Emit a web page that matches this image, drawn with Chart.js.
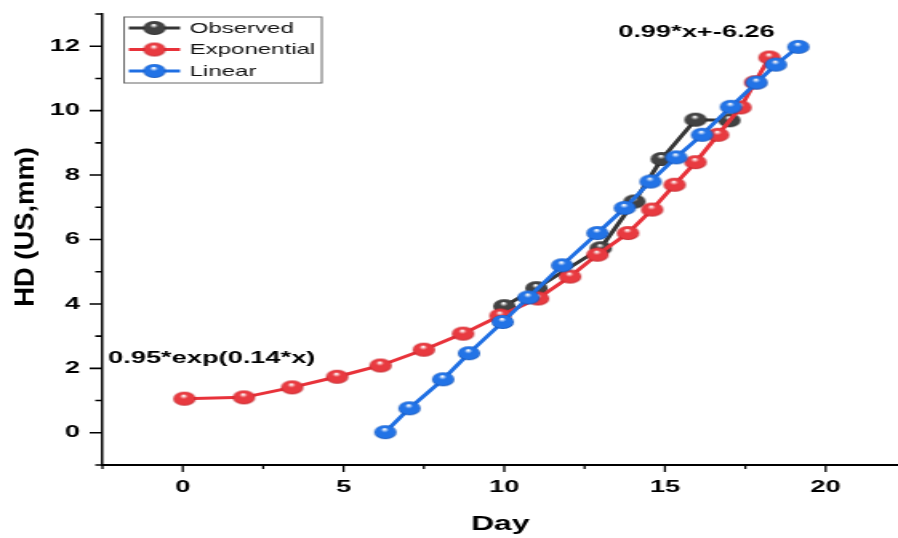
<!DOCTYPE html>
<html>
<head>
<meta charset="utf-8">
<script src="https://cdn.jsdelivr.net/npm/chart.js@4.4.1/dist/chart.umd.min.js"></script>
<style>
    html, body { margin: 0; padding: 0; background: #fff; overflow: hidden; }
    /* the reference is stretched sideways, so the chart is drawn narrow and widened */
    #wrap { position: relative; width: 561px; height: 538px; transform: scaleX(1.6007); transform-origin: 0 0; }
</style>
</head>
<body>
<div id="wrap"><canvas id="hdChart"></canvas></div>
<script>
// --- Data ---
const obsX = [10, 11, 13, 14.05, 14.9, 15.95, 17];
const obsY = [3.93, 4.49, 5.73, 7.18, 8.5, 9.72, 9.7];

const expX = [0.05, 1.9, 3.4, 4.8, 6.15, 7.5, 8.72, 9.88, 11.05, 12.05, 12.9, 13.85, 14.6, 15.3, 15.95, 16.65, 17.35, 17.8, 18.25];
const expY = [1.06, 1.1, 1.41, 1.74, 2.09, 2.58, 3.08, 3.64, 4.17, 4.85, 5.53, 6.2, 6.93, 7.7, 8.4, 9.25, 10.1, 10.88, 11.65];

const linX = [6.3, 7.05, 8.1, 8.9, 9.95, 10.75, 11.8, 12.9, 13.75, 14.55, 15.35, 16.15, 17.05, 17.85, 18.45, 19.15];
const linY = [0.02, 0.76, 1.66, 2.47, 3.44, 4.2, 5.2, 6.2, 6.98, 7.8, 8.55, 9.25, 10.12, 10.87, 11.43, 11.98];

const seriesNames = ['Observed', 'Exponential', 'Linear'];
const xMajorTicks = [0, 5, 10, 15, 20];
const yMajorTicks = [0, 2, 4, 6, 8, 10, 12];

const fitLabels = ['0.95*exp(0.14*x)', '0.99*x+-6.26'];
const fitLabelX = [0.9, 15.98];
const fitLabelY = [2.32, 12.43];

const FONT = "'Liberation Sans', Arial, sans-serif";

function isMajor(v, list) {
    return list.some(t => Math.abs(t - v) < 1e-6);
}

// --- Shiny ball markers ---
function makeBall(base, dark) {
    const r = 7;
    const c = document.createElement('canvas');
    c.width = 16;
    c.height = 16;
    const g = c.getContext('2d');
    const cx = 8, cy = 8;
    const grad = g.createRadialGradient(cx - 0.5, cy - 3, 0.5, cx, cy, r);
    grad.addColorStop(0, 'rgba(255,255,255,0.95)');
    grad.addColorStop(0.3, base);
    grad.addColorStop(0.85, base);
    grad.addColorStop(1, dark);
    g.fillStyle = grad;
    g.beginPath();
    g.arc(cx, cy, r, 0, Math.PI * 2);
    g.fill();
    return c;
}

const styles = [
    { line: '#363636', ball: makeBall('#424242', '#202020') },
    { line: '#e8323a', ball: makeBall('#e83a40', '#b81c22') },
    { line: '#1f6fe3', ball: makeBall('#2273e6', '#124fb0') }
];

function toPoints(xs, ys) {
    return xs.map((x, i) => ({ x: x, y: ys[i] }));
}

// --- Tick marks drawn from the scales (major + minor) ---
const axisTicks = {
    id: 'axisTicks',
    afterDraw(chart) {
        const { ctx, chartArea } = chart;
        const xs = chart.scales.x, ys = chart.scales.y;
        ctx.save();
        ctx.strokeStyle = '#000';
        ctx.beginPath();
        ctx.lineWidth = 1.3;
        for (let v = xs.min; v <= xs.max + 1e-6; v += 2.5) {
            const px = xs.getPixelForValue(v);
            const len = isMajor(v, xMajorTicks) ? 7 : 4;
            ctx.moveTo(px, chartArea.bottom);
            ctx.lineTo(px, chartArea.bottom + len);
        }
        ctx.stroke();
        ctx.beginPath();
        ctx.lineWidth = 1.6;
        for (let v = ys.min; v <= ys.max + 1e-6; v += 1) {
            const py = ys.getPixelForValue(v);
            const len = isMajor(v, yMajorTicks) ? 8 : 4.5;
            ctx.moveTo(chartArea.left, py);
            ctx.lineTo(chartArea.left - len, py);
        }
        ctx.stroke();
        ctx.restore();
    }
};

// --- Fit equations, y title and legend box ---
const extras = {
    id: 'extras',
    afterDraw(chart) {
        const { ctx } = chart;
        const xs = chart.scales.x, ys = chart.scales.y;
        ctx.save();

        // fit equations
        ctx.fillStyle = '#000';
        ctx.font = 'bold 17px ' + FONT;
        ctx.textAlign = 'center';
        ctx.textBaseline = 'middle';
        fitLabels.forEach((t, i) => {
            ctx.fillText(t, xs.getPixelForValue(fitLabelX[i]), ys.getPixelForValue(fitLabelY[i]));
        });

        // y axis title (stretched along its length like the reference)
        ctx.save();
        ctx.translate(16, 227);
        ctx.rotate(-Math.PI / 2);
        ctx.scale(1.61, 1);
        ctx.font = 'bold 17px ' + FONT;
        ctx.fillText('HD (US,mm)', 0, 0);
        ctx.restore();

        // legend
        const bx = 77.5, by = 17, bw = 123.5, bh = 66;
        ctx.strokeStyle = '#666';
        ctx.lineWidth = 1;
        ctx.strokeRect(bx, by, bw, bh);
        ctx.font = '15px ' + FONT;
        ctx.textAlign = 'left';
        seriesNames.forEach((name, i) => {
            const cy = 28 + i * 21.5;
            ctx.strokeStyle = styles[i].line;
            ctx.lineWidth = 3;
            ctx.beginPath();
            ctx.moveTo(80.5, cy);
            ctx.lineTo(112.5, cy);
            ctx.stroke();
            const b = styles[i].ball;
            ctx.drawImage(b, 96.5 - b.width / 2, cy - b.height / 2);
            ctx.fillStyle = '#111';
            ctx.fillText(name, 118.5, cy + 0.5);
        });
        ctx.restore();
    }
};

const datasets = [
    { label: seriesNames[0], data: toPoints(obsX, obsY), order: 3 },
    { label: seriesNames[1], data: toPoints(expX, expY), order: 2 },
    { label: seriesNames[2], data: toPoints(linX, linY), order: 1 }
].map((d, i) => Object.assign(d, {
    showLine: true,
    borderColor: styles[i].line,
    backgroundColor: styles[i].line,
    borderWidth: 3,
    tension: 0,
    pointStyle: styles[i].ball,
    pointRadius: 7,
    pointHoverRadius: 7,
    clip: false
}));

// invisible tick marks just keep the labels off the axis (real ticks come from axisTicks)
const hiddenGrid = len => ({
    display: true,
    drawOnChartArea: false,
    drawTicks: true,
    tickLength: len,
    color: 'rgba(0,0,0,0)',
    tickColor: 'rgba(0,0,0,0)'
});

new Chart(document.getElementById('hdChart').getContext('2d'), {
    type: 'scatter',
    data: { datasets: datasets },
    options: {
        responsive: true,
        maintainAspectRatio: false,
        animation: false,
        layout: { autoPadding: false, padding: { top: 14, right: 0, bottom: 0, left: 0 } },
        plugins: {
            legend: { display: false },
            tooltip: { enabled: false }
        },
        scales: {
            x: {
                type: 'linear',
                min: -2.5,
                max: 22.25,
                afterFit(scale) { scale.height = 73; },
                grid: hiddenGrid(12),
                border: { display: true, color: '#000', width: 2 },
                ticks: {
                    stepSize: 2.5,
                    includeBounds: false,
                    autoSkip: false,
                    maxRotation: 0,
                    padding: 0,
                    color: '#000',
                    font: { family: FONT, size: 17, weight: 'bold' },
                    callback: v => isMajor(v, xMajorTicks) ? String(Math.round(v)) : ''
                },
                title: {
                    display: true,
                    text: 'Day',
                    color: '#000',
                    font: { family: FONT, size: 20, weight: 'bold' },
                    padding: { top: 0, bottom: 2 }
                }
            },
            y: {
                type: 'linear',
                min: -1,
                max: 13,
                afterFit(scale) { scale.width = 64; },
                grid: hiddenGrid(14),
                border: { display: true, color: '#000', width: 1.5 },
                ticks: {
                    stepSize: 1,
                    autoSkip: false,
                    padding: 0,
                    color: '#000',
                    font: { family: FONT, size: 17, weight: 'bold' },
                    callback: v => isMajor(v, yMajorTicks) ? String(Math.round(v)) : ''
                }
            }
        }
    },
    plugins: [axisTicks, extras]
});
</script>
</body>
</html>
